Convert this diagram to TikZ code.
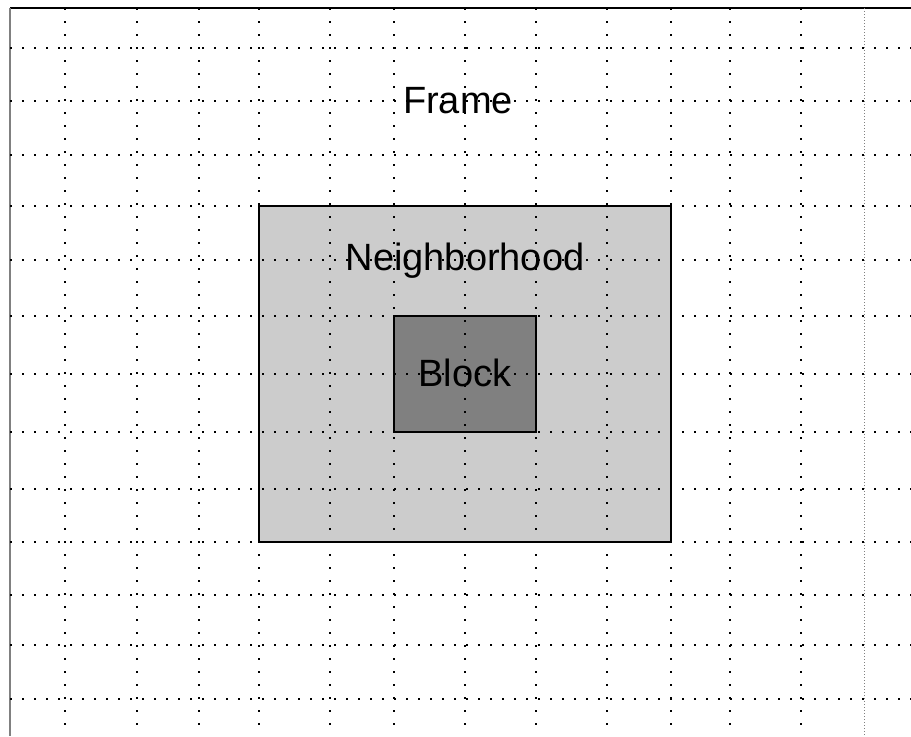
\documentclass[tikz,border=0pt]{standalone}
\usepackage{fontspec}
\setmainfont{Liberation Sans}
\usepackage{xcolor}
\definecolor{cEdge}{HTML}{808080}
\definecolor{cNbhd}{HTML}{CCCCCC}
\definecolor{cBlock}{HTML}{808080}
\usepackage{tikz}
\usetikzlibrary{positioning}
\tikzset{
  region-box/.style={draw=black,line width=0.6pt,inner sep=0pt},
  region-nbhd/.style={fill=cNbhd,minimum width=206pt,minimum height=168pt},
  region-block/.style={fill=cBlock,minimum width=71pt,minimum height=58pt},
  region-label/.style={font=\fontsize{19}{22}\selectfont,anchor=base,inner sep=0pt},
  grid-h/.style={line width=1pt,dash pattern=on 1pt off 5pt},
  grid-v/.style={line width=1pt,dash pattern=on 1pt off 5.5pt},
  grid-fine/.style={line width=0.5pt,draw=cEdge,dash pattern=on 0.5pt off 1pt},
}

\begin{document}
\begin{tikzpicture}[x=0.5pt,y=-0.5pt]
  \useasboundingbox (0,0) rectangle (911,736);
  % frame (runs off the page to the right and bottom)
  \draw[line width=1pt] (10,8) -- (911,8);
  \draw[cEdge,line width=1.3pt] (10,8) -- (10,736);
  \node[region-box,region-nbhd] (nbhd) at (465,374) {};
  \node[region-box,region-block] (block) at (465,374) {};
  % dotted grid on top of the regions
  \foreach \gx in {65,137,199,259,330,394,465,536,607,671,730,801}
    \draw[grid-v] (\gx,8) -- (\gx,736);
  \foreach \gy in {48,101,155,206,260,316,374,432,489,542,595,645,699}
    \draw[grid-h] (10,\gy) -- (911,\gy);
  \draw[grid-fine] (864,8) -- (864,736);
  \node[region-label] (frame-label) at (458,113) {Frame};
  \node[region-label] (nbhd-label) at (465,270) {Neighborhood};
  \node[region-label] (block-label) at (465,386) {Block};
\end{tikzpicture}
\end{document}
